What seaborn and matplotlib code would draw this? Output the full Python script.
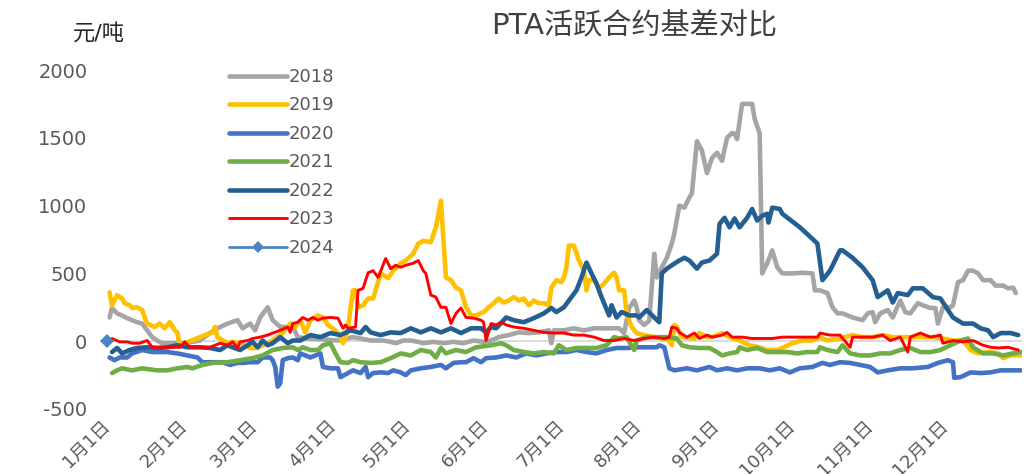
import matplotlib
matplotlib.use("Agg")
import matplotlib.pyplot as plt
import seaborn as sns
import pandas as pd
from matplotlib.lines import Line2D

# ---------------- data (day of year, basis in 元/吨) ----------------
days_2018 = [1, 2, 4, 6, 8, 10, 12, 14, 16, 18, 20, 22, 26, 31, 37, 41, 44, 48, 52, 54, 57, 59, 61, 64, 66, 69, 72,
             74, 76, 80, 85, 92, 98, 101, 105, 110, 113, 115, 118, 121, 124, 126, 130, 134, 138, 142, 146, 150, 153,
             156, 160, 164, 168, 172, 176, 177, 178, 182, 186, 190, 194, 198, 202, 204, 206, 208, 210, 211, 212, 214,
             216, 218, 219, 221, 223, 225, 226, 228, 230, 232, 233, 235, 237, 239, 241, 243, 245, 247, 249, 250, 251,
             253, 255, 257, 258, 260, 261, 263, 265, 267, 269, 273, 277, 281, 282, 284, 287, 289, 291, 293, 297, 301,
             303, 305, 306, 308, 311, 313, 316, 318, 320, 323, 325, 328, 330, 331, 333, 336, 337, 339, 341, 343, 345,
             347, 349, 352, 354, 357, 359, 361, 362]
vals_2018 = [175, 245, 205, 190, 170, 155, 140, 130, 80, 30, 5, -15, -15, -15, 5, 60, 95, 130, 155, 95, 130, 80, 175,
             250, 155, 105, 105, 105, 30, 20, 15, 5, 30, 20, 5, 5, -5, -15, 5, 5, -5, -15, -5, -15, -5, -15, 5, -5, 5,
             30, 45, 65, 60, 65, 80, -15, 80, 80, 95, 80, 95, 95, 95, 95, 60, 245, 300, 250, 155, 120, 150, 645, 470,
             545, 615, 720, 795, 1000, 985, 1060, 1090, 1475, 1405, 1240, 1350, 1390, 1330, 1500, 1535, 1530, 1490,
             1750, 1750, 1750, 1640, 1530, 500, 575, 670, 545, 500, 500, 505, 500, 375, 375, 355, 250, 205, 205, 175,
             155, 205, 215, 140, 205, 230, 175, 300, 215, 205, 280, 265, 245, 245, 130, 250, 250, 265, 435, 450, 520,
             520, 500, 450, 450, 410, 410, 390, 395, 355]

days_2019 = [1, 2, 4, 6, 7, 9, 10, 12, 14, 15, 16, 19, 21, 23, 25, 27, 28, 29, 31, 37, 42, 43, 44, 48, 50, 53, 57, 60,
             62, 66, 70, 73, 75, 77, 79, 81, 84, 86, 88, 90, 92, 94, 95, 96, 98, 99, 100, 102, 104, 106, 107, 109, 112,
             114, 117, 119, 122, 124, 126, 129, 131, 133, 135, 137, 139, 141, 143, 145, 147, 150, 153, 154, 156, 158,
             160, 162, 164, 166, 168, 170, 172, 174, 176, 177, 179, 181, 182, 183, 184, 186, 188, 190, 191, 192, 194,
             196, 198, 200, 202, 203, 204, 206, 207, 209, 211, 214, 218, 221, 224, 225, 226, 227, 229, 234, 236, 239,
             241, 245, 248, 252, 256, 260, 263, 267, 269, 273, 277, 281, 284, 287, 292, 297, 301, 305, 309, 313, 317,
             321, 325, 329, 333, 337, 341, 344, 347, 351, 355, 357, 360, 364]
vals_2019 = [360, 265, 340, 315, 280, 265, 245, 250, 230, 175, 130, 105, 130, 95, 140, 80, 65, -30, -15, 30, 65, 105,
             30, -15, -5, -15, -50, -50, -30, 5, 60, 130, 105, 155, 65, 155, 190, 175, 120, 95, 60, -15, 20, 105, 375,
             375, 250, 265, 315, 315, 375, 500, 465, 520, 575, 595, 645, 720, 740, 730, 840, 1035, 470, 450, 395, 375,
             250, 190, 190, 215, 265, 280, 315, 285, 300, 325, 300, 315, 265, 300, 280, 280, 265, 395, 450, 435, 470,
             545, 705, 705, 595, 520, 375, 450, 450, 390, 425, 470, 505, 470, 375, 375, 205, 105, 60, 45, 30, 20, 5,
             -30, 120, 105, 30, 20, 60, 30, 30, 60, 30, 5, -30, -45, -65, -65, -50, -15, 5, 5, 30, 5, 20, 45, 30, 30,
             45, 30, 30, 30, 30, 30, 20, 5, 5, -65, -90, -80, -90, -125, -105, -105]

days_2020 = [1, 3, 5, 8, 10, 14, 18, 24, 28, 32, 36, 38, 42, 46, 49, 52, 54, 57, 60, 62, 65, 66, 67, 68, 69, 70, 72,
             74, 76, 77, 81, 85, 86, 89, 92, 93, 96, 98, 101, 103, 104, 106, 109, 112, 114, 117, 119, 121, 125, 129,
             133, 135, 138, 141, 143, 146, 149, 151, 155, 159, 163, 167, 171, 175, 179, 183, 187, 191, 195, 199, 203,
             207, 211, 215, 219, 220, 222, 224, 226, 231, 235, 240, 243, 247, 251, 255, 260, 264, 268, 272, 276, 281,
             285, 288, 292, 296, 300, 304, 307, 311, 316, 321, 327, 331, 335, 337, 337.5, 340, 344, 348, 352, 356, 360,
             364]
vals_2020 = [-120, -140, -120, -120, -90, -65, -80, -80, -90, -105, -120, -155, -155, -155, -175, -160, -160, -155,
             -155, -120, -120, -140, -190, -335, -310, -140, -125, -120, -140, -90, -120, -90, -190, -200, -200, -265,
             -235, -215, -235, -190, -265, -235, -230, -235, -215, -230, -250, -215, -200, -190, -175, -200, -160,
             -155, -155, -125, -155, -125, -120, -105, -120, -90, -105, -90, -80, -80, -65, -80, -90, -65, -50, -50,
             -45, -45, -45, -30, -45, -200, -215, -200, -215, -190, -215, -200, -215, -200, -200, -215, -200, -230,
             -200, -190, -160, -175, -155, -160, -175, -190, -230, -215, -200, -200, -190, -160, -140, -155, -270,
             -265, -230, -235, -230, -215, -215, -215]

days_2021 = [2, 4, 6, 10, 14, 20, 24, 28, 32, 34, 38, 42, 48, 53, 58, 62, 66, 70, 74, 76, 78, 81, 84, 86, 89, 91, 93,
             96, 98, 101, 105, 109, 113, 117, 121, 125, 129, 131, 133, 135, 139, 143, 147, 153, 157, 159, 162, 166,
             170, 174, 178, 180, 183, 187, 191, 195, 199, 202, 204, 207, 210, 211, 215, 219, 223, 227, 229, 232, 236,
             240, 243, 245, 248, 251, 252, 255, 259, 263, 267, 271, 275, 279, 283, 284, 287, 291, 293, 296, 300, 304,
             308, 312, 316, 320, 324, 328, 332, 336, 340, 343, 345, 349, 353, 357, 361, 364]
vals_2021 = [-235, -215, -200, -215, -200, -215, -215, -200, -190, -200, -175, -160, -155, -140, -125, -105, -65, -50,
             -45, -65, -45, -65, -65, -30, -15, -90, -155, -160, -140, -155, -160, -155, -125, -90, -105, -65, -80,
             -120, -50, -90, -65, -80, -45, -30, -15, -30, -65, -80, -90, -80, -90, -30, -65, -50, -50, -50, -30, 30,
             20, 30, -65, 5, 30, 30, 30, 20, -30, -45, -50, -50, -80, -105, -90, -80, -45, -65, -50, -80, -80, -80,
             -90, -80, -80, -45, -65, -80, -30, -90, -105, -105, -90, -90, -65, -50, -80, -80, -65, -30, 5, 20, -45,
             -90, -90, -105, -90, -80]

days_2022 = [2, 4, 6, 9, 12, 16, 20, 24, 28, 32, 37, 41, 45, 48, 50, 53, 56, 58, 60, 62, 64, 66, 69, 72, 74, 77, 81,
             85, 89, 93, 97, 101, 103, 105, 109, 113, 117, 121, 125, 129, 133, 137, 141, 145, 149, 151, 153, 155, 159,
             162, 166, 170, 174, 177, 179, 182, 184, 187, 189, 191, 193, 195, 197, 200, 201, 203, 205, 208, 211, 212,
             215, 218, 220, 221, 223, 225, 228, 230, 232, 235, 237, 240, 243, 244, 246, 248, 250, 252, 255, 257, 259,
             261, 263, 263.5, 265, 268, 269, 276, 281, 283, 285, 288, 292, 293, 297, 301, 305, 307, 311, 313, 315, 319,
             321, 325, 329, 332, 335, 337, 341, 345, 348, 351, 353, 356, 360, 363]
vals_2022 = [-80, -50, -90, -65, -50, -45, -50, -45, -30, -45, -45, -50, -65, -30, -45, -65, -30, -5, -45, 5, -30, -15,
             30, -15, 5, 5, 45, 30, 60, 45, 80, 60, 105, 65, 45, 65, 60, 95, 65, 95, 65, 95, 60, 95, 95, 65, 105, 95,
             175, 155, 140, 170, 205, 245, 215, 250, 300, 375, 470, 580, 500, 425, 325, 190, 265, 175, 215, 190, 190,
             175, 230, 175, 140, 500, 535, 560, 595, 615, 595, 535, 580, 595, 645, 865, 910, 840, 905, 840, 910, 975,
             890, 925, 940, 875, 985, 975, 940, 840, 755, 720, 450, 520, 670, 670, 615, 545, 450, 325, 375, 285, 355,
             340, 390, 390, 325, 315, 230, 175, 130, 130, 95, 80, 30, 60, 60, 45]

days_2023 = [2, 5, 8, 10, 13, 16, 18, 24, 29, 31, 33, 37, 41, 45, 48, 50, 52, 53, 56, 58, 61, 64, 66, 69, 72, 73, 74,
             76, 78, 80, 82, 84, 86, 89, 92, 94, 95, 96, 99, 100, 102, 104, 106, 108, 111, 113, 115, 117, 119, 122, 124,
             126, 127, 129, 131, 133, 135, 137, 139, 141, 143, 146, 149, 150, 151, 153, 155, 157, 159, 162, 166, 170,
             174, 178, 182, 186, 190, 194, 198, 202, 206, 210, 214, 218, 222, 224, 225, 227, 228, 231, 234, 236, 239,
             241, 245, 247, 249, 253, 257, 261, 265, 269, 273, 279, 283, 284, 288, 292, 296, 297, 301, 305, 309, 312,
             316, 319, 320, 324, 328, 332, 333, 337, 341, 345, 349, 352, 355, 359, 363]
vals_2023 = [20, -5, -5, -15, -15, 5, -45, -45, -45, -5, -45, -45, -45, -15, -30, -5, -50, -5, 5, 20, 30, 45, 60, 80,
             105, 65, 130, 140, 175, 155, 175, 155, 170, 175, 170, 95, 120, 95, 105, 375, 390, 505, 520, 470, 610, 535,
             560, 545, 560, 575, 595, 520, 500, 340, 325, 250, 250, 130, 205, 245, 175, 170, 155, 140, 5, 130, 120, 140,
             120, 105, 95, 80, 65, 60, 60, 45, 45, 30, 5, 5, 20, 5, 20, 30, 20, 30, 105, 95, 65, 30, 60, 20, 45, 30, 45,
             65, 30, 30, 20, 20, 20, 30, 30, 30, 30, 60, 45, 45, -45, 30, 30, 30, 45, 5, 30, -80, 30, 60, 30, 45, -15,
             5, -5, 5, -30, -45, -50, -45, -65]

days_2024 = [0]
vals_2024 = [0]

years = ["2018", "2019", "2020", "2021", "2022", "2023", "2024"]
colors = ["#A5A5A5", "#FFC000", "#4472C4", "#70AD47", "#255E91", "#FF0000", "#4A86C2"]
month_labels = ["1月1日", "2月1日", "3月1日", "4月1日", "5月1日", "6月1日",
                "7月1日", "8月1日", "9月1日", "10月1日", "11月1日", "12月1日"]
month_days = [0, 31, 59, 90, 120, 151, 181, 212, 243, 273, 304, 334]
y_ticks = [-500, 0, 500, 1000, 1500, 2000]

series = {
    "2018": (days_2018, vals_2018), "2019": (days_2019, vals_2019),
    "2020": (days_2020, vals_2020), "2021": (days_2021, vals_2021),
    "2022": (days_2022, vals_2022), "2023": (days_2023, vals_2023),
    "2024": (days_2024, vals_2024),
}

# ---------------- style ----------------
sns.set_theme(style="white")
plt.rcParams["font.family"] = ["DejaVu Sans", "Noto Sans CJK SC"]

W, H = 1025, 474
fig = plt.figure(figsize=(W / 100, H / 100), dpi=100)
ax = fig.add_axes([100 / W, 65 / H, 922 / W, 339 / H])

ax.axhline(0, color="#D9D9D9", lw=1.3, zorder=1)

handles = []
for yr, col in zip(years, colors):
    d, v = series[yr]
    df = pd.DataFrame({"day": d, "val": v})
    if yr == "2024":
        sns.lineplot(data=df, x="day", y="val", ax=ax, color=col, lw=2, marker="D",
                     markersize=7, markeredgewidth=0, estimator=None, sort=False, zorder=5)
        handles.append(Line2D([], [], color=col, lw=2, marker="D", markersize=6,
                              markeredgewidth=0))
    else:
        lw = 2.1 if yr == "2023" else 3.3
        sns.lineplot(data=df, x="day", y="val", ax=ax, color=col, lw=lw,
                     estimator=None, sort=False, zorder=3,
                     solid_joinstyle="round", solid_capstyle="round")
        handles.append(Line2D([], [], color=col, lw=lw, solid_capstyle="round"))

ax.set_xlim(-2.8, 364.5)
ax.set_ylim(-500, 2000)
ax.set_xlabel("")
ax.set_ylabel("")
for s in ax.spines.values():
    s.set_visible(False)
ax.grid(False)

ax.set_yticks(y_ticks)
ax.set_yticklabels([str(t) for t in y_ticks])
ax.tick_params(axis="y", length=0, pad=9, labelsize=14, labelcolor="#595959")

ax.set_xticks(month_days)
ax.set_xticklabels(month_labels)
ax.tick_params(axis="x", length=0, pad=10, labelsize=13, labelcolor="#595959")
for lbl in ax.get_xticklabels():
    lbl.set_rotation(45)
    lbl.set_ha("right")
    lbl.set_va("center")
    lbl.set_rotation_mode("anchor")

leg = ax.legend(handles, years, loc="upper left", bbox_to_anchor=(229 / W, 1 - 68 / H),
                bbox_transform=fig.transFigure, frameon=False, fontsize=13, numpoints=1,
                handlelength=3.2, handletextpad=0.1, labelspacing=0.58,
                borderpad=0, borderaxespad=0, labelcolor="#595959")

fig.text(634 / W, 1 - 26 / H, "PTA活跃合约基差对比", ha="center", va="center",
         fontsize=21, color="#404040")
fig.text(99 / W, 1 - 33 / H, "元/吨", ha="center", va="center", fontsize=16, color="#262626")

fig.savefig("out.png", dpi=100)
